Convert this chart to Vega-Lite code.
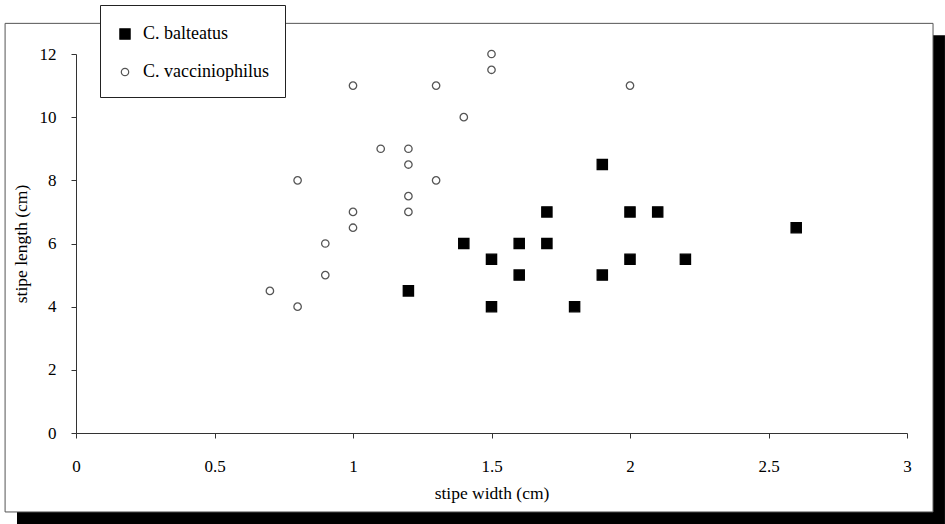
{
  "$schema": "https://vega.github.io/schema/vega-lite/v6.json",
  "width": 831,
  "height": 379,
  "padding": {"left": 76, "top": 54, "right": 38, "bottom": 91},
  "autosize": {"type": "none"},
  "background": "white",
  "config": {
    "view": {"stroke": null},
    "font": "Liberation Serif",
    "axis": {
      "grid": false,
      "domainColor": "#333",
      "tickColor": "#333",
      "labelFont": "Liberation Serif",
      "titleFont": "Liberation Serif",
      "labelColor": "black",
      "titleColor": "black",
      "labelFontSize": 17,
      "titleFontSize": 17.5,
      "titleFontWeight": "normal",
      "labelFlush": false
    }
  },
  "layer": [
    {
      "data": {"values": [{}]},
      "mark": {"type": "rect", "fill": "black", "clip": false},
      "encoding": {
        "x": {"datum": -0.213, "type": "quantitative", "scale": {"domain": [0, 3], "nice": false},
          "axis": {"values": [0, 0.5, 1, 1.5, 2, 2.5, 3], "format": "~g", "tickSize": 5, "labelPadding": 20, "labelFlush": false, "title": "stipe width (cm)", "titlePadding": 10, "zindex": 2}},
        "x2": {"datum": 3.137},
        "y": {"datum": 12.59, "type": "quantitative", "scale": {"domain": [0, 12], "nice": false},
          "axis": {"values": [0, 2, 4, 6, 8, 10, 12], "tickSize": 5, "labelPadding": 15, "labelFlush": false, "title": "stipe length (cm)", "titlePadding": 9, "zindex": 2}},
        "y2": {"datum": -2.88}
      }
    },
    {
      "data": {"values": [{}]},
      "mark": {"type": "rect", "fill": "white", "stroke": "#555", "strokeWidth": 1, "clip": false},
      "encoding": {
        "x": {"datum": -0.256, "type": "quantitative", "scale": {"domain": [0, 3], "nice": false}},
        "x2": {"datum": 3.094},
        "y": {"datum": 12.97, "type": "quantitative", "scale": {"domain": [0, 12], "nice": false}},
        "y2": {"datum": -2.5}
      }
    },
    {
      "data": {
        "values": [
          {"species": "C. vacciniophilus", "width": 0.7, "length": 4.5},
          {"species": "C. vacciniophilus", "width": 0.8, "length": 4},
          {"species": "C. vacciniophilus", "width": 0.8, "length": 8},
          {"species": "C. vacciniophilus", "width": 0.9, "length": 5},
          {"species": "C. vacciniophilus", "width": 0.9, "length": 6},
          {"species": "C. vacciniophilus", "width": 1.0, "length": 6.5},
          {"species": "C. vacciniophilus", "width": 1.0, "length": 7},
          {"species": "C. vacciniophilus", "width": 1.0, "length": 11},
          {"species": "C. vacciniophilus", "width": 1.1, "length": 9},
          {"species": "C. vacciniophilus", "width": 1.2, "length": 7},
          {"species": "C. vacciniophilus", "width": 1.2, "length": 7.5},
          {"species": "C. vacciniophilus", "width": 1.2, "length": 8.5},
          {"species": "C. vacciniophilus", "width": 1.2, "length": 9},
          {"species": "C. vacciniophilus", "width": 1.3, "length": 8},
          {"species": "C. vacciniophilus", "width": 1.3, "length": 11},
          {"species": "C. vacciniophilus", "width": 1.4, "length": 10},
          {"species": "C. vacciniophilus", "width": 1.5, "length": 11.5},
          {"species": "C. vacciniophilus", "width": 1.5, "length": 12},
          {"species": "C. vacciniophilus", "width": 2.0, "length": 11},
          {"species": "C. balteatus", "width": 1.2, "length": 4.5},
          {"species": "C. balteatus", "width": 1.4, "length": 6},
          {"species": "C. balteatus", "width": 1.5, "length": 5.5},
          {"species": "C. balteatus", "width": 1.5, "length": 4},
          {"species": "C. balteatus", "width": 1.6, "length": 6},
          {"species": "C. balteatus", "width": 1.6, "length": 5},
          {"species": "C. balteatus", "width": 1.7, "length": 7},
          {"species": "C. balteatus", "width": 1.7, "length": 6},
          {"species": "C. balteatus", "width": 1.8, "length": 4},
          {"species": "C. balteatus", "width": 1.9, "length": 8.5},
          {"species": "C. balteatus", "width": 1.9, "length": 5},
          {"species": "C. balteatus", "width": 2.0, "length": 7},
          {"species": "C. balteatus", "width": 2.0, "length": 5.5},
          {"species": "C. balteatus", "width": 2.1, "length": 7},
          {"species": "C. balteatus", "width": 2.2, "length": 5.5},
          {"species": "C. balteatus", "width": 2.6, "length": 6.5}
        ]
      },
      "mark": {"type": "point", "strokeWidth": 1.3, "opacity": 1},
      "encoding": {
        "x": {
          "field": "width", "type": "quantitative",
          "scale": {"domain": [0, 3], "nice": false},
          "axis": {"values": [0, 0.5, 1, 1.5, 2, 2.5, 3], "format": "~g", "tickSize": 5, "labelPadding": 20, "labelFlush": false, "title": "stipe width (cm)", "titlePadding": 10, "zindex": 2}
        },
        "y": {
          "field": "length", "type": "quantitative",
          "scale": {"domain": [0, 12], "nice": false},
          "axis": {"values": [0, 2, 4, 6, 8, 10, 12], "tickSize": 5, "labelPadding": 15, "labelFlush": false, "title": "stipe length (cm)", "titlePadding": 9, "zindex": 2}
        },
        "shape": {
          "field": "species", "type": "nominal",
          "scale": {"domain": ["C. balteatus", "C. vacciniophilus"], "range": ["square", "circle"]},
          "legend": {
            "title": " ", "titleFontSize": 1, "titlePadding": 3,
            "orient": "none", "legendX": 24, "legendY": -49,
            "fillColor": "white", "strokeColor": "#222", "padding": 16, "rowPadding": 20,
            "labelFont": "Liberation Serif", "labelFontSize": 18, "labelColor": "black",
            "symbolStrokeWidth": 1.2, "labelOffset": 9
          }
        },
        "fill": {
          "field": "species", "type": "nominal",
          "scale": {"domain": ["C. balteatus", "C. vacciniophilus"], "range": ["black", "transparent"]}
        },
        "stroke": {
          "field": "species", "type": "nominal",
          "scale": {"domain": ["C. balteatus", "C. vacciniophilus"], "range": ["black", "#555"]}
        },
        "size": {
          "field": "species", "type": "nominal",
          "scale": {"domain": ["C. balteatus", "C. vacciniophilus"], "range": [105, 55]}
        }
      }
    }
  ]
}
